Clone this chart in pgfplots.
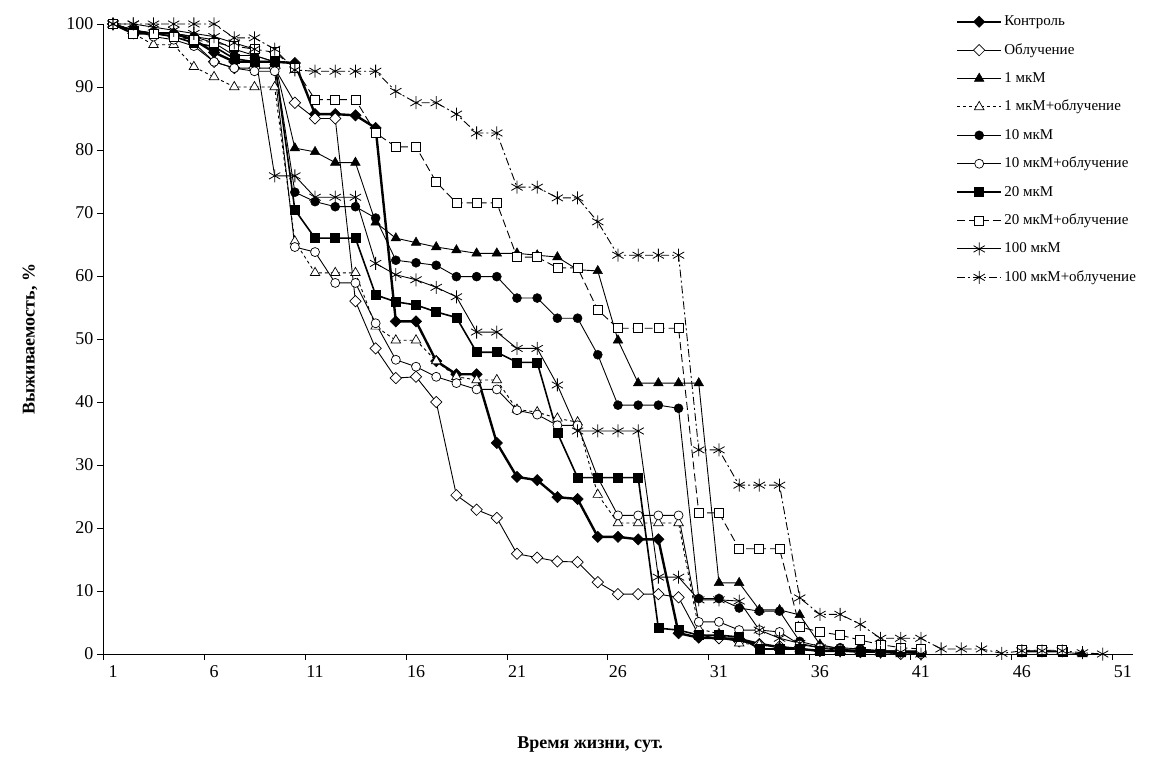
\documentclass[border=0pt]{standalone}
\usepackage{fontspec}
\setmainfont{Liberation Serif}
\usepackage{pgfplots}
\pgfplotsset{compat=1.18}
\begin{document}
\begin{tikzpicture}[font=\fontsize{18}{21}\selectfont]
\begin{axis}[
  scale only axis, width=1030pt, height=630pt,
  xmin=0.5, xmax=51.5, ymin=0, ymax=100,
  axis x line*=bottom, axis y line*=left,
  axis line style={-, line width=0.8pt},
  tick align=outside, major tick length=6pt,
  tick style={line width=0.8pt, black},
  xtick={0.5,5.5,...,50.5}, xticklabels={},
  extra x ticks={1,6,11,16,21,26,31,36,41,46,51},
  extra x tick labels={1,6,11,16,21,26,31,36,41,46,51},
  extra x tick style={major tick length=0pt},
  ytick={0,10,...,100},
  /pgf/number format/assume math mode=true,
  tick label style={font=\fontsize{18}{21}\selectfont},
  xticklabel style={yshift=-8pt},
  xlabel={\textbf{Время жизни, сут.}},
  ylabel={\textbf{Выживаемость, \%}},
  xlabel style={at={(rel axis cs:0.473,-0.1444)}, anchor=center},
  ylabel style={at={(rel axis cs:-0.0709,0.5)}, anchor=center},
  unbounded coords=jump,
  legend cell align=left,
  legend style={at={(rel axis cs:0.828,1.019)}, anchor=north west, draw=none, fill=none,
    font=\fontsize{15}{18}\selectfont, row sep=9.4pt, inner sep=0pt,
    nodes={font=\fontsize{15}{18}\selectfont, inner sep=2pt, text height=11.5pt, text depth=3.5pt}},
  legend image code/.code={\draw[mark repeat=2, mark phase=2, #1] plot coordinates {(0pt,0pt) (22pt,0pt) (44pt,0pt)};},
]
% Kontrol
\addplot[black, line width=2.4pt, mark=square*, mark size=4pt, mark options={rotate=45, solid, line width=0.5pt}] coordinates {
(1,100)(2,98.5)(3,98.5)(4,98.5)(5,97.5)(6,95.5)(7,94)(8,94)(9,94)(10,93.8)(11,85.7)(12,85.7)(13,85.5)(14,83.5)(15,52.8)(16,52.8)(17,46.5)(18,44.4)(19,44.4)(20,33.5)(21,28.1)(22,27.6)(23,24.9)(24,24.6)(25,18.6)(26,18.6)(27,18.2)(28,18.2)(29,3.3)(30,2.6)(31,2.5)(32,2.4)(33,1.6)(34,1.1)(35,0.8)(36,0.5)(37,0.5)(38,0.5)(39,0.3)(40,0.3)(41,0.3)};
\addlegendentry{Контроль}
% Obluchenie
\addplot[black, line width=0.9pt, mark=square*, mark size=4pt, mark options={rotate=45, solid, fill=white, line width=0.7pt}] coordinates {
(1,100)(2,99)(3,98.5)(4,98)(5,97)(6,94)(7,93)(8,93)(9,93)(10,87.5)(11,85)(12,85)(13,56)(14,48.5)(15,43.8)(16,44)(17,40)(18,25.2)(19,22.9)(20,21.6)(21,15.9)(22,15.3)(23,14.7)(24,14.6)(25,11.4)(26,9.5)(27,9.5)(28,9.5)(29,9)(30,3)(31,2.5)(32,2)(33,1.5)(34,1.2)(35,0.8)(36,0.5)(37,0.5)(38,0.3)(39,0.3)(40,0)(41,0)};
\addlegendentry{Облучение}
% 1 mkM
\addplot[black, line width=0.9pt, mark=triangle*, mark size=5.5pt, mark options={solid, line width=0.5pt}] coordinates {
(1,100)(2,99)(3,98.5)(4,98.5)(5,98)(6,97.5)(7,96)(8,95)(9,94)(10,80.3)(11,79.7)(12,78)(13,78)(14,68.5)(15,66)(16,65.3)(17,64.6)(18,64.1)(19,63.6)(20,63.6)(21,63.6)(22,63.3)(23,63)(24,61)(25,60.8)(26,49.8)(27,43)(28,43)(29,43)(30,43)(31,11.3)(32,11.3)(33,7)(34,7)(35,6.2)(36,1.5)(37,0.8)(38,0.8)(39,0.5)(40,0.5)(41,0.5)(42,nan)(48,0.3)(49,0)};
\addlegendentry{1 мкМ}
% 1 mkM + obl
\addplot[black, line width=0.9pt, dash pattern=on 3pt off 3pt, mark=triangle*, mark size=5.5pt, mark options={solid, fill=white, line width=0.7pt}] coordinates {
(1,100)(2,98.5)(3,96.7)(4,96.7)(5,93.2)(6,91.6)(7,90)(8,90)(9,90)(10,65.5)(11,60.5)(12,60.5)(13,60.5)(14,52)(15,49.8)(16,49.8)(17,46.5)(18,44)(19,43.5)(20,43.5)(21,38.8)(22,38.4)(23,37.4)(24,36.8)(25,25.3)(26,20.8)(27,20.8)(28,20.8)(29,20.8)(30,4)(31,3.2)(32,1.7)(33,1.5)(34,1)(35,0.8)(36,0.5)(37,0.5)(38,0.3)(39,0.3)(40,0)};
\addlegendentry{1 мкМ+облучение}
% 10 mkM
\addplot[black, line width=0.9pt, mark=*, mark size=4.5pt, mark options={solid, line width=0.5pt}] coordinates {
(1,100)(2,99)(3,98.5)(4,98.5)(5,98)(6,97)(7,95)(8,95)(9,94)(10,73.3)(11,71.8)(12,71)(13,71)(14,69.2)(15,62.5)(16,62.1)(17,61.7)(18,59.9)(19,59.9)(20,59.9)(21,56.5)(22,56.5)(23,53.3)(24,53.3)(25,47.5)(26,39.5)(27,39.5)(28,39.5)(29,39)(30,8.8)(31,8.8)(32,7.3)(33,6.8)(34,6.8)(35,2)(36,1.2)(37,1)(38,0.8)(39,0.5)(40,0.5)(41,0.3)};
\addlegendentry{10 мкМ}
% 10 mkM + obl
\addplot[black, line width=0.9pt, mark=*, mark size=4.5pt, mark options={solid, fill=white, line width=0.7pt}] coordinates {
(1,100)(2,99)(3,98)(4,97.5)(5,96.5)(6,94)(7,93)(8,92.5)(9,92.5)(10,64.6)(11,63.8)(12,58.9)(13,58.9)(14,52.5)(15,46.7)(16,45.6)(17,44)(18,43)(19,42)(20,42)(21,38.7)(22,38)(23,36.3)(24,36.3)(25,28)(26,22)(27,22)(28,22)(29,22)(30,5.1)(31,5.1)(32,3.8)(33,3.8)(34,3.5)(35,1.5)(36,1)(37,0.8)(38,0.5)(39,0.5)(40,0.3)(41,0)};
\addlegendentry{10 мкМ+облучение}
% 20 mkM
\addplot[black, line width=1.6pt, mark=square*, mark size=4.5pt, mark options={solid, line width=0.5pt}] coordinates {
(1,100)(2,99)(3,98.5)(4,98)(5,97)(6,96.4)(7,94.5)(8,94)(9,94)(10,70.5)(11,66)(12,66)(13,66)(14,57)(15,55.9)(16,55.4)(17,54.3)(18,53.4)(19,47.9)(20,47.9)(21,46.3)(22,46.3)(23,35.1)(24,28)(25,28)(26,28)(27,28)(28,4.1)(29,3.8)(30,3)(31,3)(32,2.7)(33,0.8)(34,0.8)(35,0.8)(36,0.5)(37,0.5)(38,0.3)(39,0.3)(40,0.3)(41,0.3)(42,nan)(46,0.4)(47,0.4)(48,0.4)};
\addlegendentry{20 мкМ}
% 20 mkM + obl
\addplot[black, line width=0.9pt, dash pattern=on 8pt off 4pt, mark=square*, mark size=4.5pt, mark options={solid, fill=white, line width=0.7pt}] coordinates {
(1,100)(2,98.5)(3,98.5)(4,98)(5,97.5)(6,97)(7,96.5)(8,96)(9,95.5)(10,93)(11,88)(12,88)(13,88)(14,82.7)(15,80.5)(16,80.5)(17,74.9)(18,71.6)(19,71.6)(20,71.6)(21,63)(22,63)(23,61.3)(24,61.3)(25,54.6)(26,51.7)(27,51.7)(28,51.7)(29,51.7)(30,22.4)(31,22.4)(32,16.7)(33,16.7)(34,16.7)(35,4.3)(36,3.5)(37,3)(38,2.2)(39,1.5)(40,1)(41,0.8)(42,nan)(46,0.6)(47,0.6)(48,0.6)};
\addlegendentry{20 мкМ+облучение}
% 100 mkM
\addplot[black, line width=0.9pt, mark=asterisk, mark size=6.5pt, mark options={solid, line width=0.8pt}] coordinates {
(1,100)(2,100)(3,99.5)(4,99)(5,98.5)(6,98)(7,97)(8,96)(9,75.9)(10,75.9)(11,72.5)(12,72.5)(13,72.5)(14,62)(15,60.2)(16,59.4)(17,58.2)(18,56.7)(19,51.1)(20,51.1)(21,48.5)(22,48.5)(23,42.7)(24,35.4)(25,35.4)(26,35.4)(27,35.4)(28,12.2)(29,12.2)(30,8.6)(31,8.6)(32,8.4)(33,3.8)(34,2.5)(35,1.7)(36,1)(37,0.5)(38,0.5)(39,0.3)(40,0.3)(41,0)};
\addlegendentry{100 мкМ}
% 100 mkM + obl
\addplot[black, line width=0.9pt, dash pattern=on 8pt off 3pt on 2pt off 3pt, mark=asterisk, mark size=6.5pt, mark options={solid, line width=0.8pt}] coordinates {
(1,100)(2,100)(3,100)(4,100)(5,100)(6,100)(7,97.8)(8,97.8)(9,96)(10,92.7)(11,92.5)(12,92.5)(13,92.5)(14,92.5)(15,89.3)(16,87.5)(17,87.5)(18,85.7)(19,82.7)(20,82.7)(21,74.1)(22,74.1)(23,72.4)(24,72.4)(25,68.6)(26,63.3)(27,63.3)(28,63.3)(29,63.3)(30,32.4)(31,32.4)(32,26.8)(33,26.8)(34,26.8)(35,8.9)(36,6.3)(37,6.3)(38,4.7)(39,2.5)(40,2.5)(41,2.5)(42,0.8)(43,0.8)(44,0.8)(45,0.1)(46,0.5)(47,0.5)(48,0.5)(49,0.2)(50,0)};
\addlegendentry{100 мкМ+облучение}
\end{axis}
\pgfresetboundingbox
\path[use as bounding box] (-103pt,-109pt) rectangle (1050pt,654pt);
\end{tikzpicture}
\end{document}
